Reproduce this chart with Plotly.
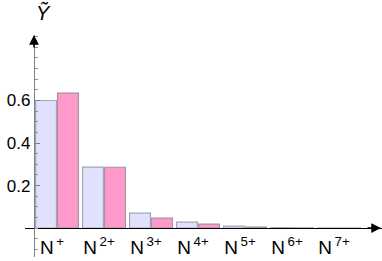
import plotly.graph_objects as go

categories = ["N<sup>\u2009+</sup>", "N<sup>\u20092+</sup>", "N<sup>\u20093+</sup>", "N<sup>\u20094+</sup>",
              "N<sup>\u20095+</sup>", "N<sup>\u20096+</sup>", "N<sup>\u20097+</sup>"]
series_a = [0.600, 0.287, 0.070, 0.028, 0.009, 0.002, 0.0003]
series_b = [0.635, 0.286, 0.047, 0.019, 0.005, 0.001, 0.0001]
y_ticks = [0.2, 0.4, 0.6]
y_tick_labels = ["0.2", "0.4", "0.6"]

FONT = "Liberation Sans, Arial, sans-serif"

fig = go.Figure()
fig.add_trace(go.Bar(x=categories, y=series_a,
                     marker=dict(color="#E0E0FF", line=dict(color="#A6A6B4", width=1.2))))
fig.add_trace(go.Bar(x=categories, y=series_b,
                     marker=dict(color="#FF99CC", line=dict(color="#A6949E", width=1.2))))

yr = [-0.136, 0.908]
fig.update_layout(
    width=382, height=261,
    margin=dict(l=25, r=0, t=35, b=4, autoexpand=False),
    paper_bgcolor="white", plot_bgcolor="white",
    showlegend=False,
    barmode="group", bargap=0.064, bargroupgap=0.05,
    font=dict(family=FONT, size=17, color="black"),
    xaxis=dict(range=[-0.681, 6.915], anchor="free", position=0.1303,
               showline=True, linecolor="black", linewidth=1.2,
               ticks="", showgrid=False, zeroline=False, automargin=False,
               tickfont=dict(size=19), ticklabelstandoff=2, ticklabelshift=-5),
    yaxis=dict(range=yr, anchor="free", position=0.0252,
               showline=True, linecolor="#808080", linewidth=1.2,
               tickvals=y_ticks, ticktext=y_tick_labels, automargin=False,
               ticks="inside", ticklen=5, tickcolor="#808080",
               minor=dict(dtick=0.05, tick0=0, ticks="inside", ticklen=3, tickcolor="#909090"),
               showgrid=False, zeroline=False, tickfont=dict(size=17)),
)

# axis arrows
fig.add_annotation(xref="paper", yref="paper", x=0.0252, y=1.0, ax=0, ay=14,
                   showarrow=True, arrowhead=2, arrowsize=1.3, arrowwidth=1.5,
                   arrowcolor="black", text="")
fig.add_annotation(xref="paper", yref="paper", x=1.0, y=0.1303, ax=-16, ay=0,
                   showarrow=True, arrowhead=2, arrowsize=1.3, arrowwidth=1.5,
                   arrowcolor="black", text="")
# axis title
fig.add_annotation(xref="paper", yref="paper", x=0.0252, y=1.0, yshift=9,
                   xanchor="left", yanchor="bottom", showarrow=False,
                   text="<i>Ỹ</i>", font=dict(size=20, family=FONT))

fig.write_html("out.html", config={"displayModeBar": False},
               post_script="document.body.style.margin='0';document.body.style.overflow='hidden';")
